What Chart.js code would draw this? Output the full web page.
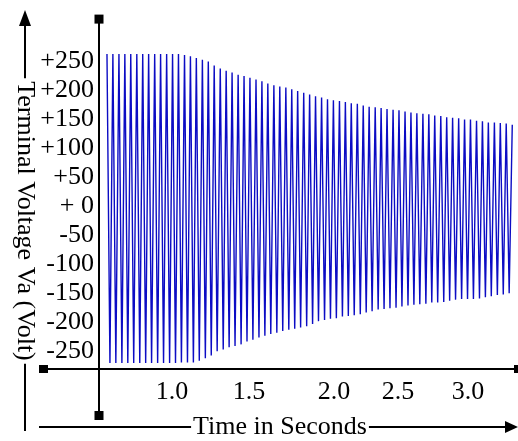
<!DOCTYPE html>
<html><head><meta charset="utf-8">
<script src="https://cdn.jsdelivr.net/npm/chart.js@4"></script>
<style>html,body{margin:0;padding:0;background:#fff}canvas{display:block}</style>
</head><body>
<canvas id="c" width="518" height="441"></canvas>
<script>
// Positive peaks (time in s, voltage in V)
const peakTimes = [
 0.554,0.594,0.635,0.675,0.715,0.756,0.796,0.836,0.877,0.917,
 0.958,0.998,1.038,1.079,1.119,1.159,1.200,1.240,1.280,1.321,
 1.361,1.401,1.442,1.482,1.522,1.563,1.603,1.643,1.684,1.724,
 1.765,1.805,1.845,1.886,1.926,1.966,2.007,2.047,2.087,2.128,
 2.168,2.208,2.249,2.289,2.329,2.370,2.410,2.450,2.491,2.531,
 2.572,2.612,2.652,2.693,2.733,2.773,2.814,2.854,2.894,2.935,
 2.975,3.015,3.056,3.096,3.136,3.177,3.217,3.257,3.298];
const peakVolts = [
 262,262,262,262,262,262,262,262,262,262,
 262,262,262,260,258,255,252,249,242,237,
 233,230,226,224,221,218,215,211,208,206,
 204,201,198,195,192,189,187,184,182,181,
 179,177,176,173,171,170,169,167,166,165,
 163,161,160,159,158,156,155,153,152,151,
 149,149,147,146,144,144,143,142,140];
// Negative troughs
const troughTimes = [
 0.574,0.614,0.655,0.695,0.735,0.776,0.816,0.856,0.897,0.937,
 0.978,1.018,1.058,1.099,1.139,1.179,1.220,1.260,1.300,1.341,
 1.381,1.421,1.462,1.502,1.542,1.583,1.623,1.663,1.704,1.744,
 1.785,1.825,1.865,1.906,1.946,1.986,2.027,2.067,2.107,2.148,
 2.188,2.228,2.269,2.309,2.349,2.390,2.430,2.470,2.511,2.551,
 2.592,2.632,2.672,2.713,2.753,2.793,2.834,2.874,2.914,2.955,
 2.995,3.035,3.076,3.116,3.156,3.197,3.237,3.277];
const troughVolts = [
 -270,-270,-270,-270,-270,-270,-270,-270,-270,-270,
 -270,-270,-269,-269,-269,-266,-262,-257,-250,-247,
 -243,-241,-238,-233,-230,-226,-223,-220,-218,-215,
 -213,-211,-209,-207,-203,-198,-196,-194,-193,-190,
 -189,-188,-186,-183,-181,-178,-177,-176,-175,-173,
 -171,-170,-169,-168,-166,-166,-165,-163,-161,-160,
 -160,-160,-159,-157,-155,-153,-152,-150];

const yTickValues = [-250,-200,-150,-100,-50,0,50,100,150,200,250];
const yTickLabels = ['-250','-200','-150','-100','-50','+ 0','+50','+100','+150','+200','+250'];
const xTickAt = [0.994,1.516,2.091,2.524,2.998];
const xTickLabels = ['1.0','1.5','2.0','2.5','3.0'];
const xTitle = 'Time in Seconds';
const yTitle = 'Terminal Voltage Va (Volt)';

const points = [];
for (let i = 0; i < peakTimes.length; i++) {
  points.push({x: peakTimes[i], y: peakVolts[i]});
  if (i < troughTimes.length) points.push({x: troughTimes[i], y: troughVolts[i]});
}

const FONT = '"Liberation Serif","Times New Roman",serif';

const decor = {
  id: 'decor',
  afterDraw(chart) {
    const c = chart.ctx, a = chart.chartArea;
    const L = a.left, B = a.bottom;
    c.save();
    c.strokeStyle = '#000'; c.fillStyle = '#000'; c.lineWidth = 2;
    // x axis line with square ends
    c.beginPath(); c.moveTo(L - 57, B); c.lineTo(a.right + 1, B); c.stroke();
    c.fillRect(L - 60, B - 4, 9, 8);
    c.fillRect(a.right - 3, B - 4, 8, 8);
    // y axis line with square ends
    c.beginPath(); c.moveTo(L, a.top - 2); c.lineTo(L, B + 46); c.stroke();
    c.fillRect(L - 4.5, a.top - 6, 9, 9);
    c.fillRect(L - 4.5, B + 42, 9, 9);
    // titles with arrows
    c.font = '26px ' + FONT; c.textBaseline = 'middle'; c.textAlign = 'center';
    const tx = 280, ty = 427, w = c.measureText(xTitle).width;
    c.fillText(xTitle, tx, ty);
    c.beginPath();
    c.moveTo(39, ty); c.lineTo(tx - w / 2 - 2, ty);
    c.moveTo(tx + w / 2 + 2, ty); c.lineTo(507, ty);
    c.stroke();
    c.beginPath(); c.moveTo(518, ty); c.lineTo(505, ty - 6); c.lineTo(505, ty + 6); c.closePath(); c.fill();
    const vx = 25, vy = 221, h = c.measureText(yTitle).width;
    c.save(); c.translate(vx, vy); c.rotate(Math.PI / 2); c.fillText(yTitle, 0, 0); c.restore();
    c.beginPath();
    c.moveTo(vx, 24); c.lineTo(vx, vy - h / 2 - 3);
    c.moveTo(vx, vy + h / 2 + 3); c.lineTo(vx, 431);
    c.stroke();
    c.beginPath(); c.moveTo(vx, 10); c.lineTo(vx - 6, 26); c.lineTo(vx + 6, 26); c.closePath(); c.fill();
    c.restore();
  }
};

new Chart(document.getElementById('c'), {
  type: 'line',
  data: { datasets: [{ data: points, borderColor: '#0c0cc4', borderWidth: 1.4, pointRadius: 0, tension: 0, fill: false }] },
  options: {
    responsive: false, animation: false, devicePixelRatio: 1,
    layout: { padding: { left: 0, right: 1, top: 14, bottom: 0 } },
    plugins: { legend: { display: false }, tooltip: { enabled: false } },
    scales: {
      x: {
        type: 'linear', min: 0.5, max: 3.33,
        grid: { display: false, drawTicks: false }, border: { display: false },
        afterBuildTicks: s => { s.ticks = xTickAt.map(v => ({ value: v })); },
        afterFit: s => { s.height = 72; },
        ticks: { padding: 8, color: '#000', font: { family: FONT, size: 26 }, maxRotation: 0, autoSkip: false,
                 callback: (v, i) => xTickLabels[i] }
      },
      y: {
        type: 'linear', min: -280.4, max: 319.3,
        grid: { display: false, drawTicks: false }, border: { display: false },
        afterBuildTicks: s => { s.ticks = yTickValues.map(v => ({ value: v })); },
        afterFit: s => { s.width = 99; },
        ticks: { padding: 5, color: '#000', font: { family: FONT, size: 26 }, autoSkip: false,
                 callback: (v, i) => yTickLabels[i] }
      }
    }
  },
  plugins: [decor]
});
</script>
</body></html>
